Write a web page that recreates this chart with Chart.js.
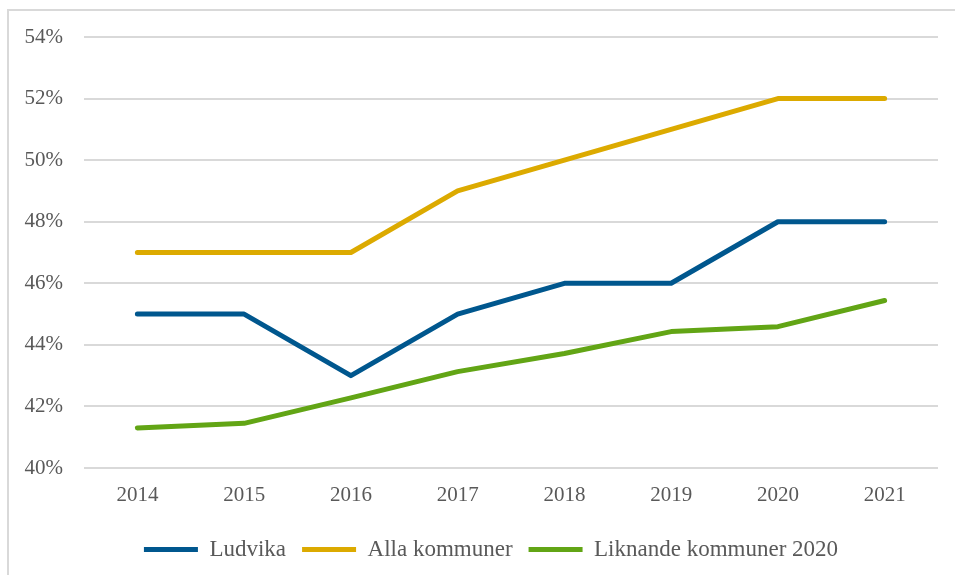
<!DOCTYPE html>
<html lang="sv">
  <head>
    <meta charset="UTF-8" />
    <title>Ludvika</title>
    <script src="https://cdn.jsdelivr.net/npm/chart.js"></script>
    <style>
      html, body { margin: 0; padding: 0; background: #fff; }
      #frame {
        position: absolute; left: 7px; top: 9px; width: 960px; height: 580px;
        border-top: 2px solid #d9d9d9; border-left: 2px solid #d9d9d9;
      }
      #wrap { position: absolute; left: 0; top: 0; width: 955px; height: 575px; }
    </style>
  </head>
  <body>
    <div id="frame"></div>
    <div id="wrap"><canvas id="chart"></canvas></div>
    <script>
      const years = ["2014", "2015", "2016", "2017", "2018", "2019", "2020", "2021"];
      const ludvika = [45, 45, 43, 45, 46, 46, 48, 48];
      const allaKommuner = [47, 47, 47, 49, 50, 51, 52, 52];
      const liknandeKommuner = [41.3, 41.45, 42.28, 43.13, 43.72, 44.43, 44.59, 45.44];

      const TICK_FONT = { family: "'Liberation Serif', serif", size: 21 };
      const LEGEND_FONT = { family: "'Liberation Serif', serif", size: 23 };
      const TEXT_COLOR = "#595959";

      function line(label, data, color) {
        return {
          label: label,
          data: data,
          borderColor: color,
          backgroundColor: color,
          borderWidth: 5,
          borderCapStyle: "round",
          borderJoinStyle: "round",
          pointRadius: 0,
          tension: 0,
          fill: false,
        };
      }

      // the legend sits a little right of the canvas centre
      const shiftLegend = {
        id: "shiftLegend",
        afterLayout(chart) {
          chart.legend.left += 22;
          chart.legend.right += 22;
        },
      };

      new Chart(document.getElementById("chart"), {
        type: "line",
        data: {
          labels: years,
          datasets: [
            line("Ludvika", ludvika, "#00578E"),
            line("Alla kommuner", allaKommuner, "#DCAA00"),
            line("Liknande kommuner 2020", liknandeKommuner, "#62A515"),
          ],
        },
        options: {
          responsive: true,
          maintainAspectRatio: false,
          animation: false,
          layout: { padding: { top: 37, right: 17, left: 0, bottom: 4 } },
          plugins: {
            tooltip: { enabled: false },
            legend: {
              position: "bottom",
              labels: {
                usePointStyle: true,
                pointStyle: "line",
                pointStyleWidth: 54,
                padding: 16,
                color: TEXT_COLOR,
                font: LEGEND_FONT,
              },
            },
          },
          scales: {
            x: {
              offset: true,
              grid: { display: false, drawTicks: false },
              border: { display: false },
              ticks: { color: TEXT_COLOR, font: TICK_FONT, padding: 15 },
              afterFit: (scale) => { scale.height = 54; },
            },
            y: {
              min: 40,
              max: 54,
              grid: { color: "#d9d9d9", lineWidth: 2, drawTicks: false },
              border: { display: false },
              ticks: {
                stepSize: 2,
                color: TEXT_COLOR,
                font: TICK_FONT,
                padding: 21,
                callback: (v) => v + "%",
              },
              afterFit: (scale) => { scale.width = 84; },
            },
          },
        },
        plugins: [shiftLegend],
      });
    </script>
  </body>
</html>
